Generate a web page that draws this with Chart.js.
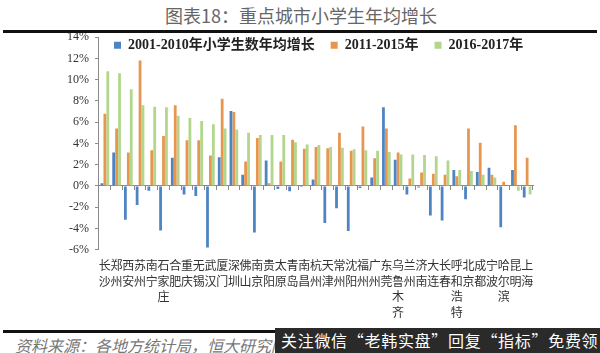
<!DOCTYPE html>
<html>
<head>
<meta charset="utf-8">
<script src="https://cdn.jsdelivr.net/npm/chart.js@4.4.1/dist/chart.umd.min.js"></script>
<style>
    body {
        margin: 0;
        width: 600px;
        height: 353px;
        overflow: hidden;
        position: relative;
        background: #fff;
        font-family: 'Noto Sans CJK SC', sans-serif;
    }
    #title {
        position: absolute;
        left: 165px;
        top: 5px;
        font-size: 18px;
        line-height: 20px;
        color: #666;
        white-space: nowrap;
    }
    .rule {
        position: absolute;
        left: 3px;
        width: 594px;
        height: 3px;
        background: #111;
        z-index: 2;
    }
    #myChart {
        position: absolute;
        left: 0;
        top: 24px;
        z-index: 1;
    }
    #source {
        position: absolute;
        left: 15px;
        top: 335px;
        font-size: 16px;
        line-height: 20px;
        font-style: italic;
        color: #777;
        white-space: nowrap;
    }
    #banner {
        position: absolute;
        left: 275px;
        top: 328px;
        width: 325px;
        height: 25px;
        background: #2a2a2a;
        color: #fff;
        font-size: 16px;
        line-height: 25px;
        letter-spacing: 0.7px;
        padding-left: 6px;
        box-sizing: border-box;
        white-space: nowrap;
        overflow: hidden;
        z-index: 3;
    }
</style>
</head>
<body>
<div id="title">图表18：重点城市小学生年均增长</div>
<canvas id="myChart" width="600" height="309"></canvas>
<div class="rule" style="top:30px"></div>
<div class="rule" style="top:330px"></div>
<div id="source">资料来源：各地方统计局，恒大研究院</div>
<div id="banner">关注微信“老韩实盘”回复“指标”免费领</div>

<script>
'use strict'

let cities = ['长沙', '郑州', '西安', '苏州', '南宁', '石家庄', '合肥', '重庆', '无锡', '武汉',
    '厦门', '深圳', '佛山', '南京', '贵阳', '太原', '青岛', '南昌', '杭州', '天津',
    '常州', '沈阳', '福州', '广州', '东莞', '乌鲁木齐', '兰州', '济南', '大连', '长春',
    '呼和浩特', '北京', '成都', '宁波', '哈尔滨', '昆明', '上海'];

let growth2001 = [0.25, 3.15, -3.2, -1.8, -0.45, -4.2, 2.65, -0.8, -0.95, -5.8,
    2.7, 7.05, 1.05, -4.4, 2.4, -0.3, -0.5, -0.1, 0.6, -3.5,
    -2.1, -4.25, -0.2, 0.8, 7.4, 2.45, -0.8, -0.15, -2.8, -3.25,
    1.5, -1.25, 1.3, 1.7, -3.9, 1.5, -1.1];

let growth2011 = [6.8, 5.4, 3.15, 11.8, 3.35, 4.7, 7.6, 4.3, 4.3, 2.85,
    8.2, 6.95, 2.3, 4.5, 0.25, 2.3, 4.35, 3.5, 3.65, 3.55,
    5.0, 3.3, 5.6, 2.6, 5.4, 3.15, 0.7, 1.25, 1.15, 1.05,
    0.9, 5.4, 4.05, 1.05, 0.4, 5.7, 2.65];

let growth2016 = [10.8, 10.6, 9.1, 7.6, 7.45, 7.4, 6.6, 6.4, 6.1, 5.8,
    5.4, 5.3, 5.0, 4.8, 4.8, 4.8, 4.1, 3.9, 3.85, 3.65,
    3.6, 3.45, 3.35, 3.3, 3.2, 2.95, 2.95, 2.9, 2.8, 2.4,
    1.5, 1.4, 1.05, 0.8, 0, -0.45, -0.8];

let seriesNames = ['2001-2010年小学生数年均增长', '2011-2015年', '2016-2017年'];
let seriesColors = ['#4f84c2', '#e6964f', '#b1d68c'];

let yMin = -6;
let yMax = 14;
let yStep = 2;


// legend sits inside the plot, level with the 14% line
const legendInside = {
    id: 'legendInside',
    afterInit(chart) {
        let legend = chart.legend;
        let fit = legend.fit;
        legend.fit = function () {
            fit.call(this);
            this.height = 0;
        };
    },
    afterLayout(chart) {
        let legend = chart.legend;
        let pad = legend.options.labels.padding;
        legend.left = 114 - pad;
        legend.right = chart.width;
        legend.top = chart.chartArea.top - pad + 1;
        legend.bottom = legend.top + 40;
        legend.width = legend.right - legend.left;
        legend.height = 40;
    }
};

function renderChart() {
    let labels = [];
    for (let i = 0; i < cities.length; i++) {
        labels.push(cities[i].split(''));
    }

    let seriesData = [growth2001, growth2011, growth2016];
    let datasets = [];
    for (let i = 0; i < seriesNames.length; i++) {
        datasets.push({
            label: seriesNames[i],
            data: seriesData[i],
            backgroundColor: seriesColors[i],
            categoryPercentage: 0.75,
            barPercentage: 0.95
        });
    }

    var ctx = document.getElementById('myChart').getContext('2d');
    var myChart = new Chart(ctx, {
        type: 'bar',
        data: {
            labels: labels,
            datasets: datasets
        },
        options: {
            responsive: false,
            animation: false,
            layout: {
                padding: { left: 61, right: 67, top: 2, bottom: 5 }
            },
            plugins: {
                tooltip: { enabled: false },
                legend: {
                    position: 'top',
                    align: 'start',
                    labels: {
                        boxWidth: 7,
                        boxHeight: 7,
                        padding: 16,
                        color: '#222',
                        font: {
                            family: "'Liberation Serif', 'Times New Roman', 'Noto Sans CJK SC'",
                            size: 14,
                            weight: 'bold'
                        }
                    }
                }
            },
            scales: {
                x: {
                    type: 'category',
                    position: { y: 0 },
                    offset: true,
                    ticks: { display: false },
                    grid: {
                        offset: true,
                        drawOnChartArea: false,
                        tickLength: 4,
                        color: '#8a8a8a'
                    },
                    border: { color: '#8a8a8a' }
                },
                x2: {
                    type: 'category',
                    axis: 'x',
                    position: 'bottom',
                    offset: true,
                    grid: { display: false, drawTicks: false, tickLength: 0 },
                    border: { display: false },
                    ticks: {
                        autoSkip: false,
                        maxRotation: 0,
                        minRotation: 0,
                        padding: 8,
                        color: '#333',
                        font: {
                            family: "'Noto Sans CJK SC'",
                            size: 12,
                            lineHeight: 1.3
                        }
                    }
                },
                y: {
                    min: yMin,
                    max: yMax,
                    ticks: {
                        stepSize: yStep,
                        padding: 6,
                        color: '#333',
                        font: {
                            family: "'Liberation Serif', 'Times New Roman'",
                            size: 12
                        },
                        callback: function (value) {
                            return value + '%';
                        }
                    },
                    grid: {
                        drawOnChartArea: false,
                        tickLength: 4,
                        color: '#8a8a8a'
                    },
                    border: { color: '#8a8a8a' }
                }
            }
        },
        plugins: [legendInside]
    });
}

renderChart();
</script>
</body>
</html>
